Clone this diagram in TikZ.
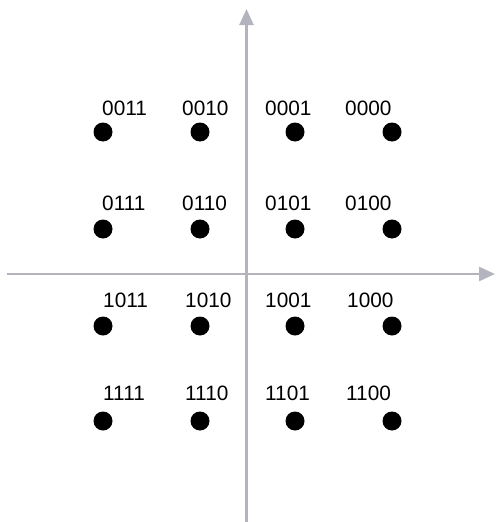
\documentclass[tikz,border=0pt]{standalone}
\usepackage{fontspec}
\setmainfont{Liberation Sans}
\usetikzlibrary{arrows.meta}
\definecolor{axisgray}{RGB}{180,180,190}
\begin{document}
\begin{tikzpicture}[x=1pt,y=-1pt,
  dot/.style={circle,fill=black,inner sep=0pt,minimum size=19pt},
  lbl/.style={anchor=base west,inner sep=0pt,font=\fontsize{20.8}{22}\selectfont},
  axis/.style={draw=axisgray,line width=2.6pt,-{Triangle[length=16pt,width=14pt]}}]
\useasboundingbox (0,0) rectangle (496,522);
\coordinate (vb) at (246.5,522);
\coordinate (vt) at (246.5,9);
\coordinate (hl) at (7,274);
\coordinate (hr) at (495,274);
\draw[axis] (vb) -- (vt);
\draw[axis] (hl) -- (hr);
% dots
\foreach \r/\y in {1/132,2/229,3/326,4/421}{
  \foreach \c/\x in {1/103,2/200,3/295,4/392}{
    \node[dot] (d\r\c) at (\x,\y) {};
  }
}
% labels
\node[lbl] (l11) at (102,115) {0011};
\node[lbl] (l12) at (182,115) {0010};
\node[lbl] (l13) at (265,115) {0001};
\node[lbl] (l14) at (345,115) {0000};
\node[lbl] (l21) at (102,210) {0111};
\node[lbl] (l22) at (182,210) {0110};
\node[lbl] (l23) at (265,210) {0101};
\node[lbl] (l24) at (345,210) {0100};
\node[lbl] (l31) at (103,307) {1011};
\node[lbl] (l32) at (185,307) {1010};
\node[lbl] (l33) at (265,307) {1001};
\node[lbl] (l34) at (347,307) {1000};
\node[lbl] (l41) at (103,400) {1111};
\node[lbl] (l42) at (185,400) {1110};
\node[lbl] (l43) at (265,400) {1101};
\node[lbl] (l44) at (346,400) {1100};
\end{tikzpicture}
\end{document}
